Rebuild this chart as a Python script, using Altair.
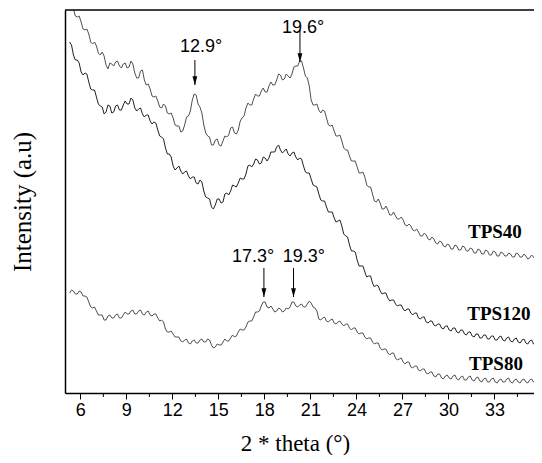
import altair as alt
import pandas as pd

# 2-theta sampling positions (degrees): main points and in-between points
theta = [round(5.3 + 0.25 * i, 3) for i in range(124)]
theta_mid = [round(5.425 + 0.25 * i, 3) for i in range(123)]

# Intensities (arbitrary units)
tps40 = [390, 384, 376, 371, 363, 359, 349, 347, 338, 337,
         324, 329, 331, 327, 329, 325, 332, 320, 315, 323,
         308, 304, 296, 292, 285, 287, 279, 275, 267, 261,
         268, 277, 293, 298, 286, 268, 257, 248, 253, 248,
         252, 256, 265, 260, 263, 275, 285, 288, 294, 297,
         302, 301, 307, 308, 313, 318, 314, 317, 319, 327,
         332, 325, 315, 293, 288, 283, 283, 275, 267, 262,
         257, 252, 243, 237, 232, 226, 220, 216, 206, 199,
         191, 190, 184, 183, 178, 177, 174, 173, 167, 167,
         162, 161, 157, 158, 153, 154, 149, 151, 146, 148,
         144, 147, 143, 146, 142, 144, 140, 143, 139, 142,
         138, 141, 137, 140, 137, 139, 136, 139, 136, 137,
         135, 136, 133, 132]
tps40_mid = [390, 377, 377, 364, 364, 351, 351, 340, 341, 328,
             330, 327, 332, 325, 330, 326, 329, 315, 322, 313,
             309, 297, 297, 286, 289, 280, 280, 268, 267, 262,
             276, 282, 299, 289, 280, 260, 256, 248, 254, 247,
             257, 258, 266, 259, 272, 277, 290, 288, 299, 297,
             305, 301, 311, 308, 319, 313, 319, 315, 326, 327,
             332, 317, 307, 288, 289, 280, 282, 268, 268, 257,
             258, 245, 243, 232, 232, 220, 221, 208, 206, 192,
             194, 184, 187, 178, 181, 174, 176, 168, 169, 163,
             164, 157, 160, 154, 156, 150, 152, 147, 149, 144,
             148, 143, 147, 142, 145, 140, 144, 139, 143, 138,
             142, 137, 141, 137, 140, 136, 140, 136, 139, 134,
             138, 133, 135]

tps120 = [351, 338, 333, 321, 320, 311, 303, 296, 287, 279,
          288, 280, 287, 283, 288, 289, 295, 285, 284, 279,
          278, 272, 271, 263, 256, 245, 239, 227, 225, 222,
          221, 217, 216, 210, 213, 202, 195, 186, 188, 194,
          191, 200, 202, 207, 210, 214, 219, 228, 229, 233,
          230, 235, 235, 241, 246, 243, 242, 239, 240, 236,
          235, 227, 220, 214, 207, 199, 192, 186, 181, 175,
          172, 167, 157, 148, 142, 133, 127, 121, 117, 110,
          108, 102, 100, 95, 93, 89, 88, 84, 84, 80,
          80, 75, 76, 71, 72, 68, 69, 65, 67, 63,
          65, 61, 63, 59, 61, 57, 59, 55, 58, 54,
          57, 53, 56, 53, 55, 52, 54, 51, 53, 50,
          52, 49, 51, 49]
tps120_mid = [348, 333, 330, 318, 319, 304, 303, 289, 286, 281,
              287, 281, 288, 283, 292, 289, 293, 282, 285, 276,
              278, 269, 270, 257, 254, 239, 236, 223, 227, 219,
              222, 214, 216, 209, 211, 196, 194, 184, 194, 190,
              199, 198, 208, 206, 215, 214, 227, 226, 234, 229,
              236, 232, 241, 241, 248, 240, 244, 237, 241, 233,
              234, 221, 220, 208, 206, 193, 192, 181, 181, 171,
              173, 159, 156, 142, 141, 127, 127, 116, 117, 106,
              107, 99, 100, 92, 93, 87, 88, 82, 84, 78,
              80, 74, 76, 70, 72, 67, 69, 64, 67, 62,
              65, 60, 63, 58, 61, 56, 59, 55, 58, 54,
              57, 53, 57, 52, 56, 51, 55, 50, 54, 49,
              53, 48, 52]

tps80 = [100, 102, 99, 101, 97, 91, 85, 82, 78, 73,
         77, 75, 78, 75, 78, 79, 82, 79, 82, 79,
         81, 78, 79, 75, 73, 64, 61, 59, 56, 52,
         53, 50, 52, 50, 53, 51, 54, 48, 46, 48,
         51, 52, 55, 56, 61, 63, 66, 72, 76, 81,
         87, 91, 85, 84, 82, 84, 82, 84, 91, 87,
         88, 86, 89, 90, 85, 74, 75, 72, 73, 70,
         71, 69, 69, 65, 65, 61, 60, 56, 55, 51,
         50, 45, 44, 40, 40, 35, 34, 31, 31, 26,
         27, 23, 24, 20, 21, 17, 19, 15, 17, 15,
         17, 14, 16, 13, 16, 13, 15, 12, 14, 11,
         14, 11, 13, 11, 14, 11, 13, 11, 13, 11,
         13, 11, 13, 11]
tps80_mid = [103, 99, 102, 97, 96, 86, 86, 78, 78, 73,
             78, 75, 79, 75, 81, 79, 83, 79, 83, 78,
             82, 77, 79, 72, 71, 61, 62, 56, 56, 51,
             54, 49, 53, 50, 54, 51, 53, 45, 49, 48,
             54, 52, 58, 57, 64, 63, 71, 72, 81, 82,
             91, 86, 87, 81, 85, 81, 85, 86, 91, 86,
             89, 86, 92, 86, 82, 73, 76, 71, 74, 69,
             72, 67, 69, 63, 65, 59, 60, 54, 55, 49,
             50, 43, 44, 38, 40, 33, 35, 29, 31, 25,
             27, 22, 24, 19, 21, 16, 19, 14, 18, 14,
             18, 13, 17, 13, 17, 12, 16, 11, 15, 11,
             15, 10, 14, 11, 15, 10, 14, 10, 14, 10,
             14, 10, 14]

# Peak annotations
peak_labels = ["12.9°", "19.6°", "17.3°", "19.3°"]
peak_label_x = [13.87, 20.52, 17.26, 20.58]
peak_label_y = [341, 360, 131, 131]
arrow_x = [13.47, 20.32, 17.97, 19.90]
arrow_top = [333, 363, 125, 125]
arrow_tip = [308, 331, 96, 96]

# Sample labels
sample_names = ["TPS40", "TPS120", "TPS80"]
sample_x = [33.03, 33.29, 33.10]
sample_y = [155, 73, 23]

x_ticks = [6, 9, 12, 15, 18, 21, 24, 27, 30, 33]
x_minor = [7.5, 10.5, 13.5, 16.5, 19.5, 22.5, 25.5, 28.5, 31.5, 34.5]
x_domain = [5, 35.58]
y_domain = [0, 383]

rows = []
for name, main, mid in (("TPS40", tps40, tps40_mid),
                        ("TPS120", tps120, tps120_mid),
                        ("TPS80", tps80, tps80_mid)):
    for t, v in zip(theta, main):
        rows.append({"theta": t, "intensity": v, "sample": name})
    for t, v in zip(theta_mid, mid):
        rows.append({"theta": t, "intensity": v, "sample": name})
df = pd.DataFrame(rows).sort_values(["sample", "theta"])

xs = alt.Scale(domain=x_domain, nice=False, zero=False)
ys = alt.Scale(domain=y_domain, nice=False, zero=False)

x_axis = alt.Axis(values=x_ticks, tickSize=6, tickWidth=1, tickColor="black",
                  domainColor="black", domainWidth=1.5, grid=False,
                  labelFont="Liberation Sans", labelFontSize=18, labelColor="black",
                  labelPadding=2, title="2 * theta (°)", titleFont="Liberation Serif",
                  titleFontSize=23, titleFontWeight="normal", titleColor="black",
                  titleBaseline="alphabetic", titleY=57, titleX=230)
y_axis = alt.Axis(labels=False, ticks=False, grid=False, domainColor="black",
                  domainWidth=1.5, title="Intensity (a.u)", titleFont="Liberation Serif",
                  titleFontSize=25, titleFontWeight="normal", titleColor="black",
                  titlePadding=30)

lines = alt.Chart(df).mark_line(strokeWidth=1, clip=True).encode(
    x=alt.X("theta:Q", scale=xs, axis=x_axis),
    y=alt.Y("intensity:Q", scale=ys, axis=y_axis),
    color=alt.Color("sample:N", legend=None,
                    scale=alt.Scale(domain=sample_names,
                                    range=["#505050", "#222222", "#505050"])),
    order="theta:Q",
)

top = alt.Chart(pd.DataFrame({"a": [x_domain[0]], "b": [x_domain[1]]})).mark_rule(
    color="black", strokeWidth=1.5).encode(
    x=alt.X("a:Q", scale=xs), x2="b:Q", y=alt.value(0))

minor = alt.Chart(pd.DataFrame({"m": x_minor})).mark_rule(
    color="black", strokeWidth=1).encode(
    x=alt.X("m:Q", scale=xs), y=alt.value(383), y2=alt.value(387))

adf = pd.DataFrame({"x": arrow_x, "top": arrow_top, "tip": arrow_tip})
arrows = alt.Chart(adf).mark_rule(color="black", strokeWidth=1).encode(
    x=alt.X("x:Q", scale=xs), y=alt.Y("top:Q", scale=ys), y2="tip:Q")
heads = alt.Chart(adf).mark_point(
    shape="M-0.6,-2.2L0.6,-2.2L0,0Z", filled=True, color="black", size=64, opacity=1
).encode(x=alt.X("x:Q", scale=xs), y=alt.Y("tip:Q", scale=ys))

pdf = pd.DataFrame({"label": peak_labels, "x": peak_label_x, "y": peak_label_y})
plabels = alt.Chart(pdf).mark_text(
    font="Liberation Sans", fontSize=18, color="black", baseline="alphabetic", align="center"
).encode(x=alt.X("x:Q", scale=xs), y=alt.Y("y:Q", scale=ys), text="label:N")

sdf = pd.DataFrame({"label": sample_names, "x": sample_x, "y": sample_y})
slabels = alt.Chart(sdf).mark_text(
    font="Liberation Serif", fontSize=19, fontWeight="bold", color="black",
    baseline="alphabetic", align="center"
).encode(x=alt.X("x:Q", scale=xs), y=alt.Y("y:Q", scale=ys), text="label:N")

chart = alt.layer(lines, top, minor, arrows, heads, plabels, slabels).properties(
    width=469, height=383,
    padding={"left": 57, "top": 2, "right": 0, "bottom": 62},
    autosize=alt.AutoSizeParams(type="none"),
    background="white",
).configure_view(stroke=None)

chart.save("out.html", embed_options={"renderer": "svg", "actions": False})
